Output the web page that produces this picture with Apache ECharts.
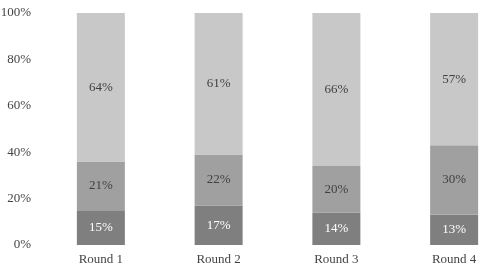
<!doctype html>
<html>
<head>
    <meta charset="utf-8">
    <title>Rounds</title>
    <style>
        html, body { margin: 0; padding: 0; background: #fff; }
        #chart { width: 490px; height: 271px; }
    </style>
</head>
<body>
    <div id="chart"></div>
    <script src="https://cdn.jsdelivr.net/npm/echarts@6/dist/echarts.min.js"></script>
    <script>
        var rounds = ['Round 1', 'Round 2', 'Round 3', 'Round 4'];
        var bottomShare = [15, 17, 14, 13];
        var middleShare = [21, 22, 20, 30];
        var topShare = [64, 61, 66, 57];

        var font = "'Liberation Serif', 'DejaVu Serif', serif";

        var makeSeries = function (name, values, color, labelColor) {
            return {
                name: name,
                type: 'bar',
                stack: 'total',
                barWidth: 48,
                data: values,
                itemStyle: { color: color },
                label: {
                    show: true,
                    position: 'inside',
                    formatter: '{c}%',
                    color: labelColor,
                    fontFamily: font,
                    fontSize: 13
                }
            };
        };

        var myChart = echarts.init(document.getElementById('chart'));
        myChart.setOption({
            animation: false,
            grid: { left: 42, width: 471, top: 13, bottom: 26, outerBoundsMode: 'none' },
            xAxis: {
                type: 'category',
                data: rounds,
                axisLine: { show: false },
                axisTick: { show: false },
                axisLabel: { color: '#444', fontFamily: font, fontSize: 13, margin: 8 }
            },
            yAxis: {
                type: 'value',
                min: 0,
                max: 100,
                interval: 20,
                splitLine: { show: false },
                axisLabel: { formatter: '{value}%', color: '#444', fontFamily: font, fontSize: 13, margin: 11 }
            },
            series: [
                makeSeries('bottom', bottomShare, '#7f7f7f', '#ffffff'),
                makeSeries('middle', middleShare, '#a0a0a0', '#404040'),
                makeSeries('top', topShare, '#c8c8c8', '#404040')
            ]
        });
    </script>
</body>
</html>
